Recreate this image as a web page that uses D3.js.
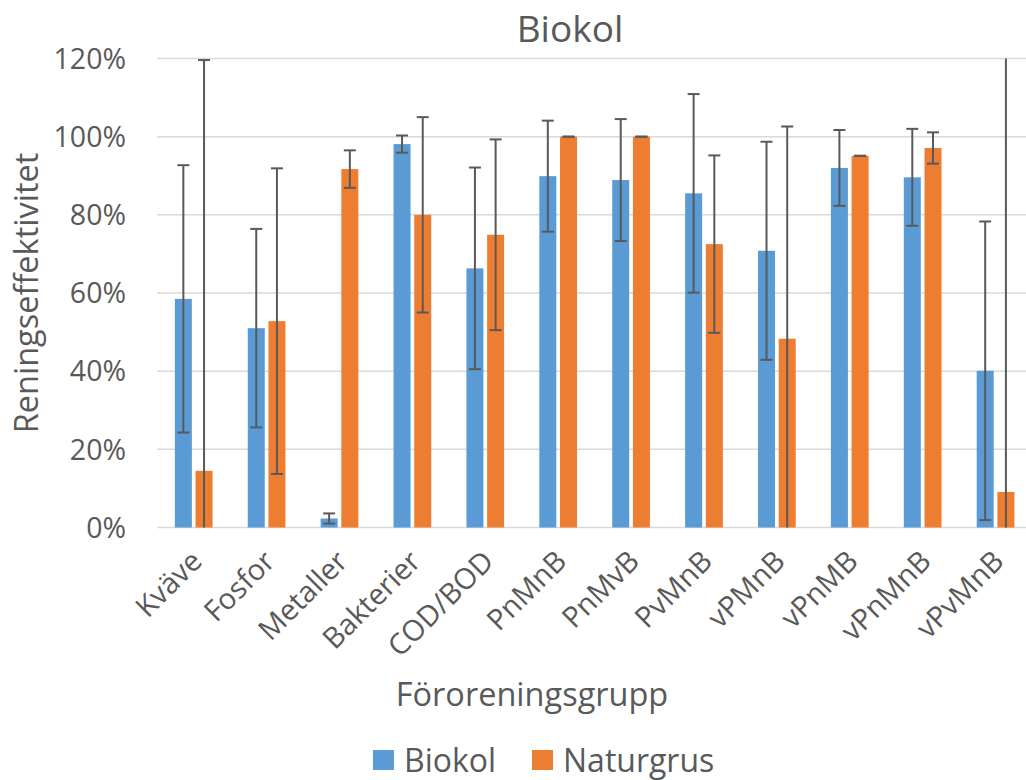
<!DOCTYPE html>
<html>
<head>
<meta charset="utf-8">
<script src="https://cdn.jsdelivr.net/npm/d3@7"></script>
<style>
body{margin:0;background:#fff;}
svg{display:block;font-family:"Open Sans",sans-serif;}
</style>
</head>
<body>
<svg id="chart"></svg>
<script>
var width=1026;
var height=780;

// data (percent)
var categories=["Kväve","Fosfor","Metaller","Bakterier","COD/BOD","PnMnB","PnMvB","PvMnB","vPMnB","vPnMB","vPnMnB","vPvMnB"];
var series=["Biokol","Naturgrus"];
var biokolValues=[58.5,51.0,2.3,98.1,66.3,89.9,88.9,85.5,70.8,92.0,89.6,40.1];
var biokolErrors=[34.2,25.4,1.3,2.2,25.8,14.2,15.6,25.4,27.9,9.7,12.4,38.2];
var naturgrusValues=[14.5,52.8,91.7,80.0,74.9,100,100,72.5,48.3,95.1,97.1,9.1];
var naturgrusErrors=[105.1,39.1,4.8,25.0,24.4,0,0,22.7,54.3,0,4,115];
var yTicks=[0,20,40,60,80,100,120];

var colorScale=d3.scaleOrdinal()
.domain(series)
.range(["#5B9BD5","#ED7D31"]);

var rows=[];
categories.forEach(function(c,i){
    rows.push({cat:c,series:"Biokol",value:biokolValues[i],err:biokolErrors[i]});
    rows.push({cat:c,series:"Naturgrus",value:naturgrusValues[i],err:naturgrusErrors[i]});
});

var svg=d3.select("#chart")
.attr("width",width)
.attr("height",height);

// plot area (the right edge runs past the picture, as in the original)
var x=d3.scaleBand()
.domain(categories)
.range([157.25,1032]);

var xSub=d3.scaleBand()
.domain(series)
.range([-20.7,20.7]);

var y=d3.scaleLinear()
.domain([0,120])
.range([527.5,58.5]);

var barWidth=17;

// gridlines
svg.append("g")
.selectAll("line")
.data(yTicks)
.join("line")
.attr("x1",157.25)
.attr("x2",1032)
.attr("y1",d=>y(d))
.attr("y2",d=>y(d))
.style("stroke","#D9D9D9")
.style("stroke-width","1.5px");

// y tick labels
svg.append("g")
.selectAll("text")
.data(yTicks)
.join("text")
.attr("x",126)
.attr("y",d=>y(d))
.attr("dy","0.36em")
.attr("text-anchor","end")
.style("font-size","28.5px")
.style("fill","#595959")
.text(d=>d+"%");

// bars
svg.append("g")
.selectAll("rect")
.data(rows)
.join("rect")
.attr("x",d=>x(d.cat)+x.bandwidth()/2+xSub(d.series)+xSub.bandwidth()/2-barWidth/2)
.attr("y",d=>y(d.value))
.attr("width",barWidth)
.attr("height",d=>y(0)-y(d.value))
.style("fill",d=>colorScale(d.series));

// error bars, clipped to the plot range
var errG=svg.append("g")
.style("stroke","#595959")
.style("stroke-width","2px");

rows.forEach(function(d){
    var cx=x(d.cat)+x.bandwidth()/2+xSub(d.series)+xSub.bandwidth()/2;
    var hi=d.value+d.err;
    var lo=d.value-d.err;
    var hiC=Math.min(hi,120);
    var loC=Math.max(lo,0);
    errG.append("line")
    .attr("x1",cx).attr("x2",cx)
    .attr("y1",y(hiC)).attr("y2",y(loC));
    if(hi<=120){
        errG.append("line")
        .attr("x1",cx-6).attr("x2",cx+6)
        .attr("y1",y(hi)).attr("y2",y(hi));
    }
    if(lo>=0){
        errG.append("line")
        .attr("x1",cx-6).attr("x2",cx+6)
        .attr("y1",y(lo)).attr("y2",y(lo));
    }
});

// x tick labels, rotated
svg.append("g")
.selectAll("text")
.data(categories)
.join("text")
.attr("text-anchor","end")
.attr("transform",d=>"translate("+(x(d)+x.bandwidth()/2+10)+",563) rotate(-45)")
.style("font-size","29px")
.style("fill","#595959")
.text(d=>d);

// title
svg.append("text")
.attr("x",570)
.attr("y",42)
.attr("text-anchor","middle")
.style("font-size","37px")
.style("fill","#595959")
.text("Biokol");

// axis titles
svg.append("text")
.attr("x",532)
.attr("y",706)
.attr("text-anchor","middle")
.style("font-size","32.5px")
.style("fill","#595959")
.text("Föroreningsgrupp");

svg.append("text")
.attr("transform","translate(38,293) rotate(-90)")
.attr("text-anchor","middle")
.style("font-size","32.5px")
.style("fill","#595959")
.text("Reningseffektivitet");

// legend
var legendX=[373,532];
var legend=svg.append("g")
.selectAll("g")
.data(series)
.join("g")
.attr("transform",(d,i)=>"translate("+legendX[i]+",750)");

legend.append("rect")
.attr("width",21)
.attr("height",20)
.style("fill",d=>colorScale(d));

legend.append("text")
.attr("x",31)
.attr("y",10)
.attr("dy","0.36em")
.style("font-size","32px")
.style("fill","#595959")
.text(d=>d);
</script>
</body>
</html>
